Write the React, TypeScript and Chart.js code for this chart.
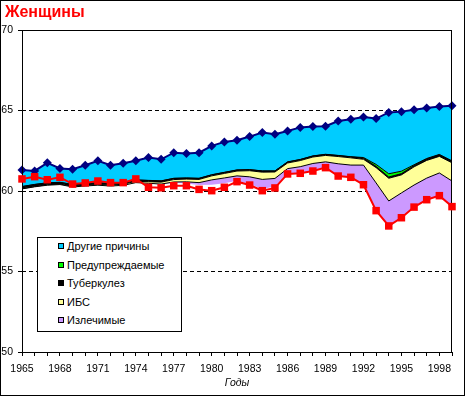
import React, { useEffect, useRef } from 'react';
import { Chart, registerables } from 'chart.js';

Chart.register(...registerables);

const FONT = "Arial, 'Liberation Sans', sans-serif";

const years = [
  '1965', '1966', '1967', '1968', '1969', '1970', '1971', '1972', '1973', '1974',
  '1975', '1976', '1977', '1978', '1979', '1980', '1981', '1982', '1983', '1984',
  '1985', '1986', '1987', '1988', '1989', '1990', '1991', '1992', '1993', '1994',
  '1995', '1996', '1997', '1998', '1999',
];

// Ожидаемая продолжительность жизни при устранении всех причин (верхняя линия)
const potential = [
  61.3, 61.25, 61.75, 61.4, 61.35, 61.6, 61.88, 61.6, 61.72, 61.88,
  62.08, 61.97, 62.38, 62.33, 62.38, 62.8, 63.05, 63.15, 63.38, 63.63,
  63.52, 63.73, 63.95, 64.0, 64.02, 64.35, 64.45, 64.6, 64.5, 64.88,
  64.93, 65.05, 65.15, 65.25, 65.3,
];

// Фактическая продолжительность жизни (красная линия)
const actual = [
  60.75, 60.89, 60.7, 60.85, 60.43, 60.5, 60.62, 60.52, 60.52, 60.75,
  60.23, 60.2, 60.33, 60.33, 60.1, 60.02, 60.23, 60.58, 60.37, 60.02,
  60.19, 61.06, 61.1, 61.24, 61.45, 60.93, 60.85, 60.39, 58.78, 57.83,
  58.34, 59.0, 59.46, 59.71, 59.03,
];

// Основание стопки (невидимая часть)
const baseLevel = [
  60.13, 60.26, 60.36, 60.4, 60.25, 60.31, 60.36, 60.31, 60.35, 60.51,
  60.46, 60.4, 60.51, 60.47, 60.37, 60.39, 60.48, 60.64, 60.43, 60.12,
  60.28, 61.06, 61.1, 61.24, 61.45, 60.93, 60.85, 60.39, 58.78, 57.83,
  58.34, 59.0, 59.46, 59.71, 59.03,
];

const curable = [
  0, 0, 0, 0, 0, 0, 0, 0, 0, 0.01,
  0.02, 0.03, 0.05, 0.1, 0.15, 0.3, 0.33, 0.3, 0.45, 0.6,
  0.5, 0.33, 0.41, 0.47, 0.36, 0.76, 0.76, 1.22, 1.72, 1.55,
  1.54, 1.37, 1.34, 1.41, 1.59,
];

const ihd = [
  0.02, 0.02, 0.03, 0.03, 0.05, 0.05, 0.05, 0.06, 0.07, 0.08,
  0.1, 0.12, 0.15, 0.17, 0.2, 0.25, 0.28, 0.3, 0.38, 0.45,
  0.4, 0.35, 0.38, 0.4, 0.4, 0.45, 0.45, 0.36, 0.95, 1.41,
  1.12, 1.13, 1.1, 1.03, 1.13,
];

const tuberculosis = [
  0.12, 0.12, 0.11, 0.1, 0.1, 0.1, 0.09, 0.09, 0.08, 0.08,
  0.07, 0.07, 0.07, 0.06, 0.06, 0.06, 0.06, 0.06, 0.06, 0.07,
  0.06, 0.06, 0.06, 0.06, 0.06, 0.06, 0.06, 0.07, 0.08, 0.08,
  0.08, 0.08, 0.09, 0.1, 0.1,
];

const preventable = [
  0.01, 0.01, 0.01, 0.01, 0.01, 0.01, 0.01, 0.01, 0.01, 0.01,
  0.01, 0.01, 0.01, 0.01, 0.01, 0.01, 0.01, 0.01, 0.01, 0.01,
  0.01, 0.01, 0.01, 0.01, 0.01, 0.01, 0.01, 0.04, 0.12, 0.2,
  0.15, 0.05, 0.03, 0.02, 0.02,
];

const yMin = 50;
const yMax = 70;
const yStep = 5;

const legendItems = [
  { label: 'Другие причины', color: '#00CCFF' },
  { label: 'Предупреждаемые', color: '#00FF00' },
  { label: 'Туберкулез', color: '#000000' },
  { label: 'ИБС', color: '#FFFF99' },
  { label: 'Излечимые', color: '#CC99FF' },
];

const otherCauses = potential.map((p, i) =>
  Number((p - baseLevel[i] - curable[i] - ihd[i] - tuberculosis[i] - preventable[i]).toFixed(3))
);

const framePlugin = {
  id: 'plotFrame',
  beforeDatasetDraw(chart: any, args: any) {
    if (args.index !== 6) return;
    const { ctx, chartArea: a } = chart;
    const L = Math.round(a.left) + 0.5;
    const T = Math.round(a.top) + 0.5;
    const R = Math.round(a.right) - 0.5;
    const B = Math.round(a.bottom) + 0.5;
    ctx.save();
    ctx.setLineDash([]);
    ctx.strokeStyle = '#000';
    ctx.lineWidth = 1;
    ctx.strokeRect(L, T, R - L, B - T);
    ctx.restore();
  },
};

export default function App() {
  const canvasRef = useRef<HTMLCanvasElement | null>(null);

  useEffect(() => {
    if (!canvasRef.current) return;
    const layer = (label: string, data: number[], bg: string) => ({
      label,
      data,
      stack: 'a',
      fill: '-1',
      backgroundColor: bg,
      borderColor: '#000000',
      borderWidth: 1,
      pointRadius: 0,
      tension: 0,
    });
    const chart = new Chart(canvasRef.current, {
      type: 'line',
      data: {
        labels: years,
        datasets: [
          {
            label: 'base',
            data: baseLevel,
            stack: 'a',
            fill: false,
            backgroundColor: 'transparent',
            borderColor: 'transparent',
            borderWidth: 0,
            pointRadius: 0,
          },
          layer('Излечимые', curable, '#CC99FF'),
          layer('ИБС', ihd, '#FFFF99'),
          layer('Туберкулез', tuberculosis, '#000000'),
          layer('Предупреждаемые', preventable, '#00FF00'),
          {
            label: 'Другие причины',
            data: otherCauses,
            stack: 'a',
            fill: '-1',
            backgroundColor: '#00CCFF',
            borderColor: '#000080',
            borderWidth: 2,
            pointStyle: 'rectRot',
            pointRadius: 4.5,
            pointBackgroundColor: '#000080',
            pointBorderColor: '#000080',
            pointBorderWidth: 0,
            clip: false,
          },
          {
            label: 'Фактическая',
            data: actual,
            stack: 'b',
            order: -1,
            fill: false,
            borderColor: '#FF0000',
            backgroundColor: '#FF0000',
            borderWidth: 2,
            pointStyle: 'rect',
            pointRadius: 5.3,
            pointBackgroundColor: '#FF0000',
            pointBorderColor: '#FF0000',
            pointBorderWidth: 0,
            clip: false,
          },
        ],
      } as any,
      options: {
        animation: false,
        responsive: false,
        events: [],
        layout: { padding: { left: 0, top: 30, right: 13, bottom: 0 } },
        plugins: {
          legend: { display: false },
          tooltip: { enabled: false },
          title: { display: false },
        },
        scales: {
          x: {
            type: 'category',
            offset: false,
            grid: {
              display: true,
              drawOnChartArea: false,
              drawTicks: true,
              tickLength: 4,
              tickColor: '#000',
              tickWidth: 1,
              offset: false,
            },
            border: { display: false },
            ticks: {
              autoSkip: false,
              maxRotation: 0,
              minRotation: 0,
              padding: 7,
              color: '#000',
              font: { family: FONT, size: 10.5 },
              callback: (_v: any, i: number) => (i % 3 === 0 ? years[i] : ''),
            },
            title: {
              display: true,
              text: 'Годы',
              color: '#000',
              font: { family: FONT, size: 10.5, style: 'italic' },
              padding: { top: 0, bottom: 7 },
            },
            afterFit: (s: any) => {
              s.height = 44;
            },
          },
          y: {
            stacked: true,
            min: yMin,
            max: yMax,
            grid: {
              color: (c: any) =>
                c.tick && c.tick.value > yMin && c.tick.value < yMax ? '#000' : 'transparent',
              lineWidth: 1,
              drawTicks: true,
              tickLength: 4,
              tickColor: '#000',
              tickWidth: 1,
            },
            border: { display: false, dash: [4, 3] },
            ticks: {
              stepSize: yStep,
              padding: 5,
              color: '#000',
              font: { family: FONT, size: 10.5 },
            },
            afterFit: (s: any) => {
              s.width = 22;
            },
          },
        },
      } as any,
      plugins: [framePlugin],
    });
    return () => chart.destroy();
  }, []);

  return (
    <div
      style={{
        position: 'absolute',
        left: 0,
        top: 0,
        width: 465,
        height: 396,
        background: '#fff',
        fontFamily: FONT,
      }}
    >
      <canvas ref={canvasRef} width={465} height={396} style={{ position: 'absolute', left: 0, top: 0 }} />
      <div
        style={{
          position: 'absolute',
          left: 5,
          top: 4,
          fontSize: 16,
          lineHeight: '16px',
          fontWeight: 'bold',
          color: '#FF0000',
          whiteSpace: 'nowrap',
        }}
      >
        Женщины
      </div>
      <div
        style={{
          position: 'absolute',
          left: 37,
          top: 237,
          width: 145,
          height: 95,
          boxSizing: 'border-box',
          border: '1px solid #000',
          background: '#fff',
        }}
      >
        {legendItems.map((it, i) => (
          <div
            key={it.label}
            style={{
              position: 'absolute',
              left: 0,
              top: 8 + i * 18.6 - 7,
              height: 14,
              display: 'flex',
              alignItems: 'center',
              whiteSpace: 'nowrap',
            }}
          >
            <span
              style={{
                display: 'inline-block',
                marginLeft: 20,
                width: 6,
                height: 6,
                boxSizing: 'border-box',
                border: '1px solid #000',
                background: it.color,
              }}
            />
            <span style={{ marginLeft: 3, fontSize: 11, lineHeight: '14px', color: '#000' }}>{it.label}</span>
          </div>
        ))}
      </div>
      <div
        style={{
          position: 'absolute',
          left: 0,
          top: 0,
          width: 465,
          height: 396,
          boxSizing: 'border-box',
          border: '1px solid #000',
          pointerEvents: 'none',
        }}
      />
    </div>
  );
}
